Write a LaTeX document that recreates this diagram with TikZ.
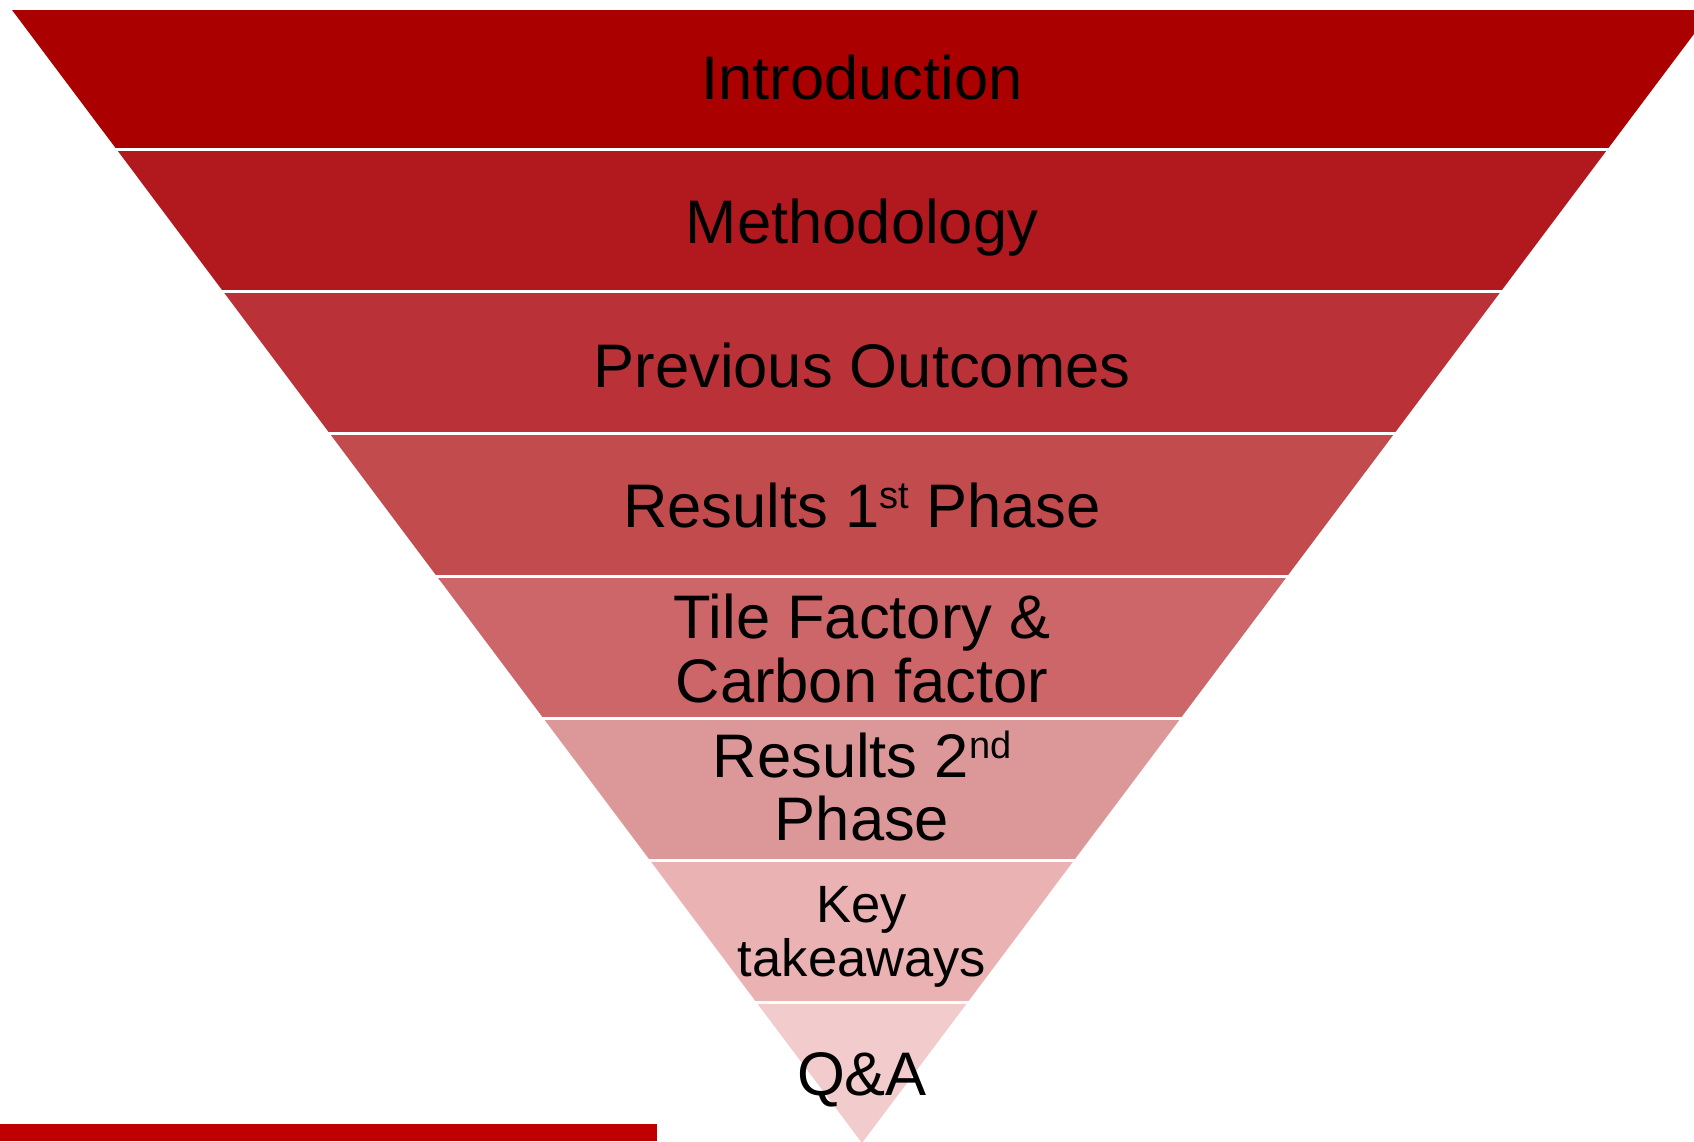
\documentclass[tikz,border=0pt]{standalone}
\usepackage{fontspec}
\setmainfont{Liberation Sans}
\definecolor{bandA}{HTML}{AB0000}
\definecolor{bandB}{HTML}{B2191E}
\definecolor{bandC}{HTML}{BA3237}
\definecolor{bandD}{HTML}{C24B4E}
\definecolor{bandE}{HTML}{CC6668}
\definecolor{bandF}{HTML}{DC9899}
\definecolor{bandG}{HTML}{EAB2B2}
\definecolor{bandH}{HTML}{F2CBCC}
\definecolor{barred}{HTML}{C00000}
\newcommand{\supx}[1]{\raisebox{19pt}{\fontsize{38}{40}\selectfont #1}}
\begin{document}
\begin{tikzpicture}[x=1pt,y=-1pt,
  lbl/.style={anchor=base, inner sep=0pt, text=black, font=\fontsize{61.5}{64}\selectfont},
  lblsmall/.style={lbl, font=\fontsize{52.5}{55}\selectfont},
  sep/.style={draw=white, line width=3pt}]
\useasboundingbox (0,0) rectangle (1694,1141);
\begin{scope}
\clip (0,0) rectangle (1694,1141);
\fill[bandA] (12,10) -- (1712,10) -- (1607.3,149.5) -- (116.7,149.5) -- cycle;
\fill[bandB] (116.7,149.5) -- (1607.3,149.5) -- (1500.7,291.7) -- (223.3,291.7) -- cycle;
\fill[bandC] (223.3,291.7) -- (1500.7,291.7) -- (1394,433.9) -- (330,433.9) -- cycle;
\fill[bandD] (330,433.9) -- (1394,433.9) -- (1287.3,576.1) -- (436.7,576.1) -- cycle;
\fill[bandE] (436.7,576.1) -- (1287.3,576.1) -- (1180.6,718.3) -- (543.4,718.3) -- cycle;
\fill[bandF] (543.4,718.3) -- (1180.6,718.3) -- (1073.9,860.5) -- (650.1,860.5) -- cycle;
\fill[bandG] (650.1,860.5) -- (1073.9,860.5) -- (967.3,1002.7) -- (756.7,1002.7) -- cycle;
\fill[bandH] (756.7,1002.7) -- (967.3,1002.7) -- (862,1143) -- cycle;
\foreach \yy in {149.5,291.7,433.9,576.1,718.3,860.5,1002.7}
  \draw[sep] (0,\yy) -- (1694,\yy);
\end{scope}
\fill[barred] (0,1124) rectangle (657,1141);
\node[lbl] (intro) at (862,99) {Introduction};
\node[lbl] (meth) at (862,243) {Methodology};
\node[lbl] (prev) at (862,387) {Previous Outcomes};
\node[lbl] (res1) at (862,527) {Results 1\supx{st} Phase};
\node[lbl] (tile1) at (862,638) {Tile Factory \&};
\node[lbl] (tile2) at (862,702) {Carbon factor};
\node[lbl] (res2a) at (862,777) {Results 2\supx{nd}};
\node[lbl] (res2b) at (862,840) {Phase};
\node[lblsmall] (key1) at (862,922.5) {Key};
\node[lblsmall] (key2) at (862,976) {takeaways};
\node[lbl] (qa) at (862,1095) {Q\&A};
\end{tikzpicture}
\end{document}
